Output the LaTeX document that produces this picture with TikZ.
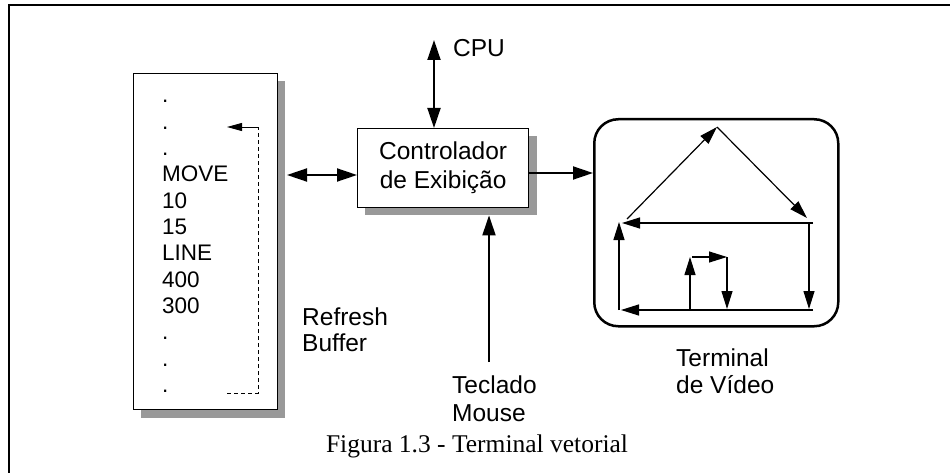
\documentclass[tikz,border=0pt]{standalone}
\usepackage{fontspec}
\setmainfont{Liberation Sans}
\newfontfamily\capfont{Liberation Serif}
\usetikzlibrary{arrows.meta}
\begin{document}
\begin{tikzpicture}[x=1pt,y=-1pt,
  conn/.style={line width=1.9pt, -{Triangle[length=20pt,width=13pt]}},
  dconn/.style={line width=1.9pt, {Triangle[length=20pt,width=13pt]}-{Triangle[length=20pt,width=13pt]}},
  vec/.style={line width=1.2pt, -{Triangle[length=18pt,width=11pt]}},
  lbl/.style={font=\fontsize{24.5}{28}\selectfont, inner sep=0pt, anchor=base west},
  buf/.style={font=\fontsize{22.5}{26}\selectfont, inner sep=0pt, anchor=base west},
  shadowbox/.style={fill=black!40, draw=none, inner sep=0pt, anchor=north west},
  box/.style={draw, line width=1.3pt, fill=white, inner sep=0pt, anchor=north west}]
\useasboundingbox (0,0) rectangle (950,473);
% frame
\coordinate (f1) at (950,5);
\coordinate (f2) at (9,5);
\coordinate (f3) at (9,473);
\draw[line width=2.2pt] (f1) -- (f2) -- (f3);

% refresh buffer
\node[shadowbox, minimum width=144pt, minimum height=337pt] (bufsh) at (141,81) {};
\node[box, minimum width=144pt, minimum height=336pt] (buffer) at (133,73) {};
\foreach \t [count=\i from 0] in {.,.,.,MOVE,10,15,LINE,400,300,.,.,.}{
  \node[buf] (b\i) at (162,{103+26.3*\i}) {\t};
}
\coordinate (d1) at (227,393);
\coordinate (d2) at (258,393);
\coordinate (d3) at (258,127);
\coordinate (d4) at (227,127);
\draw[line width=0.9pt, dash pattern=on 4pt off 3pt] (d1) -- (d2) -- (d3);
\draw[line width=0.9pt, -{Triangle[length=15pt,width=8pt]}] (d3) -- (d4);

% controller
\node[shadowbox, minimum width=172pt, minimum height=79pt] (ctrlsh) at (365,136) {};
\node[box, minimum width=171pt, minimum height=79pt, align=center,
      font=\fontsize{24.5}{29}\selectfont] (ctrl) at (357,128) {Controlador\\de Exibição};

% terminal
\node[draw, line width=2.5pt, rounded corners=24pt, minimum width=244pt,
      minimum height=207pt, anchor=north west] (term) at (593,118) {};

% connectors
\coordinate (cpu) at (434,40);
\draw[dconn] (cpu) -- (cpu |- ctrl.north);
\coordinate (bl) at (287,175);
\draw[dconn] (bl) -- (ctrl.west |- bl);
\coordinate (o1) at (528,173);
\draw[conn] (o1) -- (term.west |- o1);
\coordinate (kb) at (489,362);
\draw[conn] (kb) -- (kb |- ctrlsh.south);

% vectors on screen
\coordinate (A) at (627,219);
\coordinate (B) at (717,127);
\coordinate (C) at (807,218);
\coordinate (h1s) at (813,223);
\coordinate (h1e) at (622,223);
\coordinate (vrs) at (809,223);
\coordinate (vre) at (809,309);
\coordinate (h2s) at (813,310);
\coordinate (h2e) at (621,310);
\coordinate (vls) at (619,310);
\coordinate (vle) at (619,222);
\coordinate (s1) at (690,310);
\coordinate (s2) at (690,257);
\coordinate (s3) at (692,257);
\coordinate (s4) at (727,257);
\coordinate (s5) at (727,309);
\draw[vec] (A) -- (B);
\draw[vec] (B) -- (C);
\draw[vec] (h1s) -- (h1e);
\draw[vec] (vrs) -- (vre);
\draw[vec] (h2s) -- (h2e);
\draw[vec] (vls) -- (vle);
\draw[vec] (s1) -- (s2);
\draw[vec] (s3) -- (s4);
\draw[vec] (s4) -- (s5);

% labels
\node[lbl] (lcpu) at (453,57) {CPU};
\node[lbl] (lref1) at (302,325) {Refresh};
\node[lbl] (lref2) at (302,351) {Buffer};
\node[lbl] (lkb1) at (452,393) {Teclado};
\node[lbl] (lkb2) at (452,421) {Mouse};
\node[lbl] (lt1) at (676,366) {Terminal};
\node[lbl] (lt2) at (676,393) {de Vídeo};
\node[font=\capfont\fontsize{25.5}{29}\selectfont, inner sep=0pt, anchor=base] (cap) at (477,452) {Figura 1.3 - Terminal vetorial};
\end{tikzpicture}
\end{document}
